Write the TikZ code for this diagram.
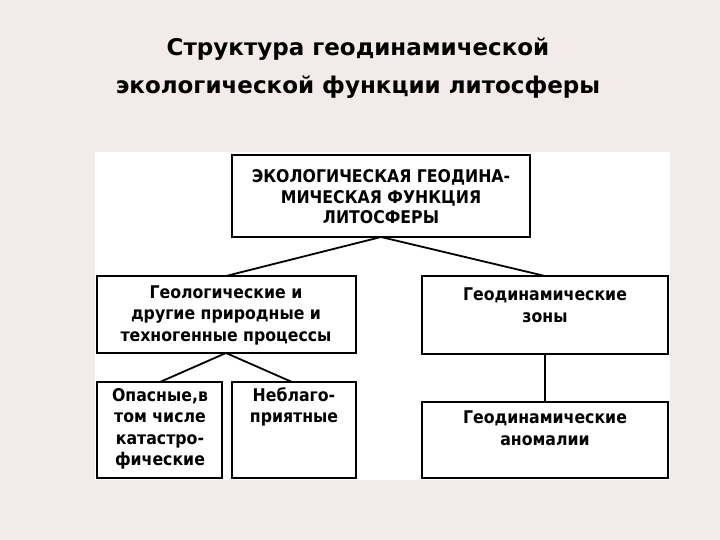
\documentclass[tikz,border=0pt]{standalone}
\usepackage{fontspec}
\setmainfont{Liberation Sans}
\newfontfamily\boxfont{DejaVu Sans Condensed}
\newfontfamily\titlefont{DejaVu Sans}
\begin{document}
\begin{tikzpicture}[x=1pt,y=-1pt,
  bx/.style={draw,line width=1.8pt,fill=white},
  txt/.style={font=\boxfont\bfseries\fontsize{17.5}{21.5}\selectfont,align=center,inner sep=0pt},
  ln/.style={line width=1.8pt}]
\fill[fill={rgb,255:red,243;green,234;blue,234}] (0,0) rectangle (720,540);
\useasboundingbox (0,0) rectangle (720,540);
\fill[white] (95,152) rectangle (670,480);
\node[font=\titlefont\bfseries\fontsize{23}{38}\selectfont,align=center] (title) at (358,68) {Структура геодинамической\\экологической функции литосферы};
\draw[bx] (232,155) rectangle (530,237);
\node[txt,font=\boxfont\bfseries\fontsize{17.5}{20.5}\selectfont] (top) at (381,197) {ЭКОЛОГИЧЕСКАЯ ГЕОДИНА-\\МИЧЕСКАЯ ФУНКЦИЯ\\ЛИТОСФЕРЫ};
\draw[bx] (97,276) rectangle (356,353);
\node[txt] (lm) at (226,315) {Геологические и\\другие природные и\\техногенные процессы};
\draw[bx] (422,276) rectangle (668,354);
\node[txt] (rm) at (545,305) {Геодинамические\\зоны};
\draw[bx] (97,382) rectangle (222,478);
\node[txt] (b1) at (160,429) {Опасные,в\\том числе\\катастро-\\фические};
\draw[bx] (232,382) rectangle (356,478);
\node[txt] (b2) at (294,407) {Неблаго-\\приятные};
\draw[bx] (422,402) rectangle (668,478);
\node[txt] (rb) at (545,428) {Геодинамические\\аномалии};
\coordinate (ta) at (381,237);
\coordinate (la) at (226,276);
\coordinate (ra) at (545,276);
\coordinate (lb) at (226,353);
\coordinate (b1t) at (160,382);
\coordinate (b2t) at (292,382);
\coordinate (rmb) at (545,354);
\coordinate (rbt) at (545,402);
\draw[ln] (la) -- (ta) -- (ra);
\draw[ln] (b1t) -- (lb) -- (b2t);
\draw[ln] (rmb) -- (rbt);
\end{tikzpicture}
\end{document}
